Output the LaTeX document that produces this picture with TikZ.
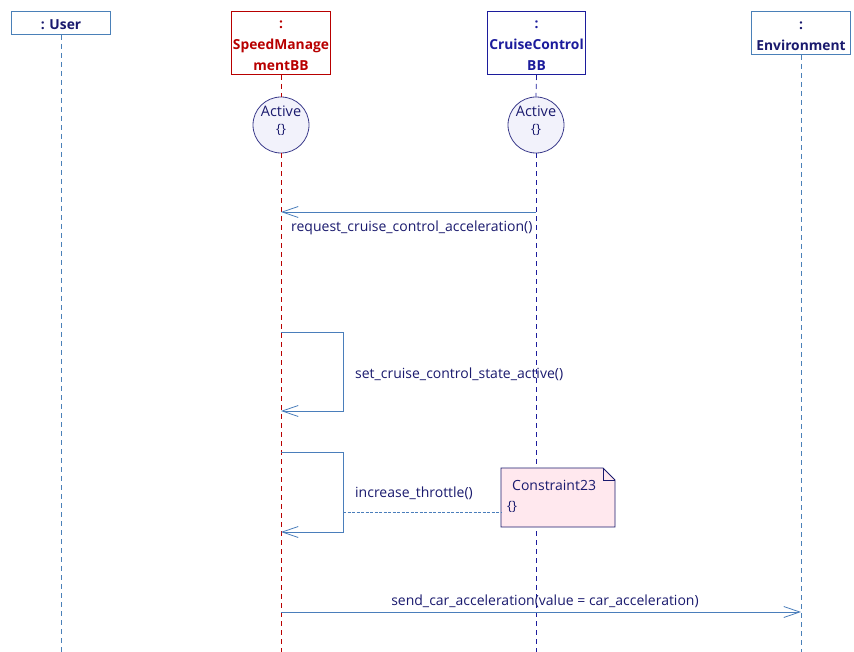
\documentclass[tikz,border=0pt]{standalone}
\usepackage{fontspec}
\setmainfont{Open Sans}
\usetikzlibrary{arrows.meta,shapes.misc}
\definecolor{msg}{HTML}{4A7EBB}
\definecolor{navy}{HTML}{1A1A6E}
\definecolor{dred}{HTML}{B80000}
\definecolor{dblue}{HTML}{1C1C9C}
\definecolor{sblue}{HTML}{4A80B8}
\definecolor{circfill}{HTML}{F2F2FB}
\definecolor{circline}{HTML}{3C3C8C}
\definecolor{notefill}{HTML}{FFE8EE}
\tikzset{
  x=1pt, y=-1pt,
  hdr/.style={draw, line width=1pt, fill=white, minimum width=99pt, inner sep=0pt},
  htxt/.style={align=center, inner sep=0pt, yshift=-3pt, font=\fontsize{13.8}{21}\selectfont\bfseries},
  life/.style={dash pattern=on 5pt off 4pt, line width=0.8pt},
  statec/.style={circle, draw=circline, fill=circfill, line width=0.8pt, minimum size=56pt, inner sep=0pt},
  stxt/.style={text=navy, inner sep=0pt, font=\fontsize{14.5}{16}\selectfont},
  msgline/.style={draw=msg, line width=0.8pt},
  openarr/.style={-{Straight Barb[length=16pt,width=11pt,line width=0.8pt]}},
  lbl/.style={text=navy, font=\fontsize{14}{16}\selectfont, inner sep=0pt},
  brace/.style={text=navy, font=\fontsize{13}{14}\selectfont, inner sep=0pt}
}
\begin{document}
\begin{tikzpicture}
\useasboundingbox[fill=white] (0,0) rectangle (854,652);
% headers
\node[hdr, draw=sblue, minimum height=23pt, anchor=north west] (user) at (11,11) {};
\node[htxt, text=navy, yshift=1pt] (usert) at (user.center) {: User};
\node[hdr, draw=dred, minimum height=63pt, anchor=north west] (smb) at (231,11) {};
\node[htxt, text=dred] (smbt) at (smb.center) {:\\SpeedManage\\mentBB};
\node[hdr, draw=dblue, minimum height=63pt, minimum width=98pt, anchor=north west] (ccb) at (487,11) {};
\node[htxt, text=dblue] (ccbt) at (ccb.center) {:\\CruiseControl\\BB};
\node[hdr, draw=sblue, minimum height=43pt, anchor=north west] (env) at (751,11) {};
\node[htxt, text=navy] (envt) at (env.center) {:\\Environment};
% states
\node[statec] (s1) at (281,125) {};
\node[stxt] (s1t) at (281,111) {Active};
\node[brace] (s1b) at (281,130) {\{\}};
\node[statec] (s2) at (536,125) {};
\node[stxt] (s2t) at (536,111) {Active};
\node[brace] (s2b) at (536,130) {\{\}};
% lifelines
\coordinate (userend) at (61,652);
\coordinate (smbend) at (281,652);
\coordinate (ccbend) at (536,652);
\coordinate (envend) at (801,652);
\draw[life, draw=sblue] (user.south) -- (userend);
\draw[life, draw=dred] (smb.south) -- (s1.north);
\draw[life, draw=dred] (s1.south) -- (smbend);
\draw[life, draw=dblue] (ccb.south) -- (s2.north);
\draw[life, draw=dblue] (s2.south) -- (ccbend);
\draw[life, draw=sblue] (env.south) -- (envend);
% message 1
\coordinate (m1a) at (536,212);
\coordinate (m1b) at (281,212);
\draw[msgline, openarr] (m1a) -- (m1b);
\node[lbl, anchor=west] (l1) at (291,227.5) {request\_cruise\_control\_acceleration()};
% self message 1
\coordinate (sa1) at (281,332);
\coordinate (sa2) at (343,332);
\coordinate (sa3) at (343,411);
\coordinate (sa4) at (281,411);
\draw[msgline, openarr] (sa1) -- (sa2) -- (sa3) -- (sa4);
\node[lbl, anchor=west] (l2) at (355,374.5) {set\_cruise\_control\_state\_active()};
% self message 2
\coordinate (sb1) at (281,452);
\coordinate (sb2) at (343,452);
\coordinate (sb3) at (343,532);
\coordinate (sb4) at (281,532);
\draw[msgline, openarr] (sb1) -- (sb2) -- (sb3) -- (sb4);
\node[lbl, anchor=west] (l3) at (355,493) {increase\_throttle()};
% note
\coordinate (nA) at (501,468);
\coordinate (nB) at (603,468);
\coordinate (nC) at (615,480);
\coordinate (nD) at (615,527);
\coordinate (nE) at (501,527);
\coordinate (nF) at (603,480);
\draw[draw=navy, fill=notefill, line width=0.8pt] (nA) -- (nB) -- (nC) -- (nD) -- (nE) -- cycle;
\draw[draw=navy, line width=0.8pt] (nB) -- (nF) -- (nC);
\node[lbl, anchor=west] (nt1) at (512,485.5) {Constraint23};
\node[brace, anchor=west] (nt2) at (507,507) {\{\}};
\coordinate (nleft) at (501,512);
\coordinate (sbmid) at (343,512);
\draw[draw=msg, line width=0.8pt, dash pattern=on 3pt off 1.5pt] (sbmid) -- (nleft);
% message 4
\coordinate (m4a) at (281,612);
\coordinate (m4b) at (801,612);
\draw[msgline, openarr] (m4a) -- (m4b);
\node[lbl] (l4) at (545,601) {send\_car\_acceleration(value = car\_acceleration)};
\end{tikzpicture}
\end{document}
